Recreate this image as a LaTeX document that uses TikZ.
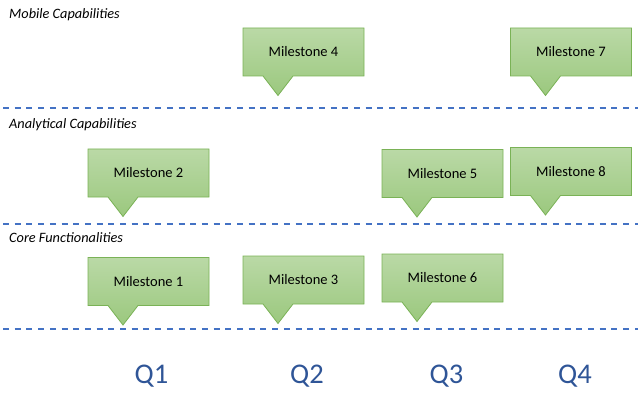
\documentclass[tikz,border=0pt]{standalone}
\usepackage{fontspec}
\setmainfont{Carlito}

\definecolor{msborder}{RGB}{122,178,86}
\definecolor{mstop}{RGB}{186,217,166}
\definecolor{msbottom}{RGB}{155,200,126}
\definecolor{lineblue}{RGB}{68,114,196}
\definecolor{qblue}{RGB}{47,85,151}

\tikzset{
    msshape/.style={draw=msborder, line width=0.8pt, line join=miter,
        top color=mstop, bottom color=msbottom},
    milestone/.style={rectangle, minimum width=121pt, minimum height=48pt,
        inner sep=0pt, font=\fontsize{14.5}{17}\selectfont},
    rowlabel/.style={anchor=base west, inner sep=0pt,
        font=\fontsize{14.3}{16}\selectfont\itshape},
    quarter/.style={anchor=base, text=qblue, font=\fontsize{28.5}{32}\selectfont},
    lane/.style={lineblue, line width=2pt, dash pattern=on 6pt off 5.7pt}
}

\begin{document}
\begin{tikzpicture}[x=1pt, y=1pt]
    \useasboundingbox (0,0) rectangle (641,408);

    % Lignes de séparation
    \draw[lane] (3,300) -- (638,300);
    \draw[lane] (3,184) -- (638,184);
    \draw[lane] (3,79) -- (638,79);

    % Titres des lignes
    \node[rowlabel] (mobile) at (9,389) {Mobile Capabilities};
    \node[rowlabel] (analytic) at (9,279) {Analytical Capabilities};
    \node[rowlabel] (core) at (9,166) {Core Functionalities};

    % Jalons : bulle avec pointe vers le bas
    \foreach \n/\x/\y in {1/148.5/126.5, 2/148.5/235, 3/303.5/128, 4/303.5/356,
                          5/442.5/234.5, 6/442.5/130, 7/571/356, 8/571/236.5} {
        \path[msshape] (\x-60.5,\y+24) -- (\x+60.5,\y+24) -- (\x+60.5,\y-24)
            -- (\x-10.5,\y-24) -- (\x-25.5,\y-43.5) -- (\x-40.5,\y-24)
            -- (\x-60.5,\y-24) -- cycle;
        \node[milestone] (m\n) at (\x,\y) {Milestone \n};
    }

    % Trimestres
    \node[quarter] (q1) at (151.5,25) {Q1};
    \node[quarter] (q2) at (307,25) {Q2};
    \node[quarter] (q3) at (446.5,25) {Q3};
    \node[quarter] (q4) at (575,25) {Q4};
\end{tikzpicture}
\end{document}
